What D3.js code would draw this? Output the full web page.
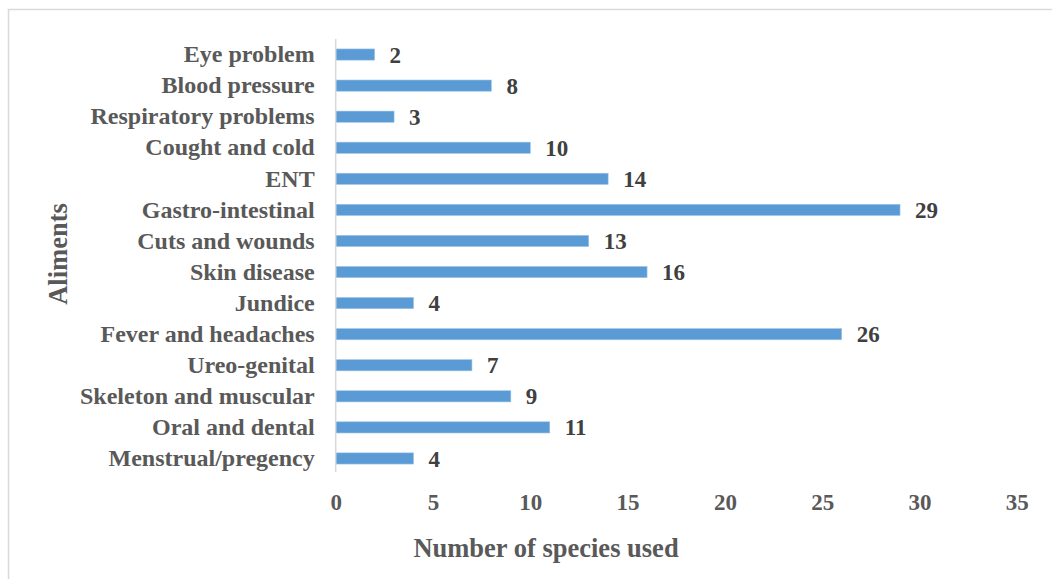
<!DOCTYPE html>
<html>
<head>
<meta charset="utf-8">
<script src="https://cdn.jsdelivr.net/npm/d3@7/dist/d3.min.js"></script>
<style>
  html, body { margin: 0; padding: 0; background: #fff; }
  svg { display: block; }
  text { font-family: "Liberation Serif", "Times New Roman", serif; font-weight: bold; }
</style>
</head>
<body>
<svg id="chart" width="1052" height="579"></svg>
<script>
// Ailment categories, top to bottom
const categories = [
  "Eye problem", "Blood pressure", "Respiratory problems", "Cought and cold",
  "ENT", "Gastro-intestinal", "Cuts and wounds ", "Skin disease", "Jundice ",
  "Fever and headaches", "Ureo-genital", "Skeleton and muscular",
  "Oral and dental", "Menstrual/pregency"
];
// Number of species used per ailment
const speciesCounts = [2, 8, 3, 10, 14, 29, 13, 16, 4, 26, 7, 9, 11, 4];
// X-axis ticks
const xTicks = [0, 5, 10, 15, 20, 25, 30, 35];

const svg = d3.select("#chart");
const serif = '"Liberation Serif", "Times New Roman", serif';

// Outer frame
svg.append("rect")
  .attr("x", 8.5).attr("y", 9.5)
  .attr("width", 1100).attr("height", 600)
  .attr("fill", "none").attr("stroke", "#d9d9d9").attr("stroke-width", 1.5);

const plot = { left: 335.7, right: 1016.8, top: 39, bottom: 474 };

const x = d3.scaleLinear().domain([0, 35]).range([plot.left, plot.right]);
const y = d3.scaleBand().domain(categories).range([plot.top, plot.bottom]).paddingInner(0.64).paddingOuter(0.32);

// Bars
svg.append("g").selectAll("rect")
  .data(categories)
  .join("rect")
  .attr("x", x(0))
  .attr("y", d => y(d))
  .attr("width", (d, i) => x(speciesCounts[i]) - x(0))
  .attr("height", y.bandwidth())
  .attr("fill", "#5b9bd5")
  .attr("stroke", "#9dc3e6")
  .attr("stroke-width", 0.6);

// Vertical axis line
svg.append("line")
  .attr("x1", x(0)).attr("x2", x(0))
  .attr("y1", plot.top).attr("y2", plot.bottom - 2)
  .attr("stroke", "#d9d9d9").attr("stroke-width", 1.5);

// Category labels
const yAxis = d3.axisLeft(y).tickSize(0).tickPadding(21);
const yg = svg.append("g").attr("transform", `translate(${x(0)},0)`).call(yAxis);
yg.select(".domain").remove();
yg.selectAll("text")
  .attr("font-size", 24)
  .attr("fill", "#595959")
  .style("font-family", serif)
  .style("font-weight", "bold");

// X tick labels
const xAxis = d3.axisBottom(x).tickValues(xTicks).tickSize(0).tickPadding(0);
const xg = svg.append("g").attr("transform", `translate(0,${502})`).call(xAxis);
xg.select(".domain").remove();
xg.selectAll("text")
  .attr("dy", "0.35em")
  .attr("font-size", 23)
  .attr("fill", "#595959")
  .style("font-family", serif)
  .style("font-weight", "bold");

// Value labels
svg.append("g").selectAll("text")
  .data(categories)
  .join("text")
  .attr("x", (d, i) => x(speciesCounts[i]) + 15)
  .attr("y", d => y(d) + y.bandwidth() / 2)
  .attr("dy", "0.35em")
  .attr("font-size", 23)
  .attr("fill", "#404040")
  .text((d, i) => speciesCounts[i]);

// Axis titles
svg.append("text")
  .attr("x", 546).attr("y", 548)
  .attr("dy", "0.35em")
  .attr("text-anchor", "middle")
  .attr("font-size", 26.5)
  .attr("fill", "#595959")
  .text("Number of species used");

svg.append("text")
  .attr("transform", "translate(58,254) rotate(-90)")
  .attr("dy", "0.35em")
  .attr("text-anchor", "middle")
  .attr("font-size", 26.5)
  .attr("fill", "#595959")
  .text("Aliments");
</script>
</body>
</html>
